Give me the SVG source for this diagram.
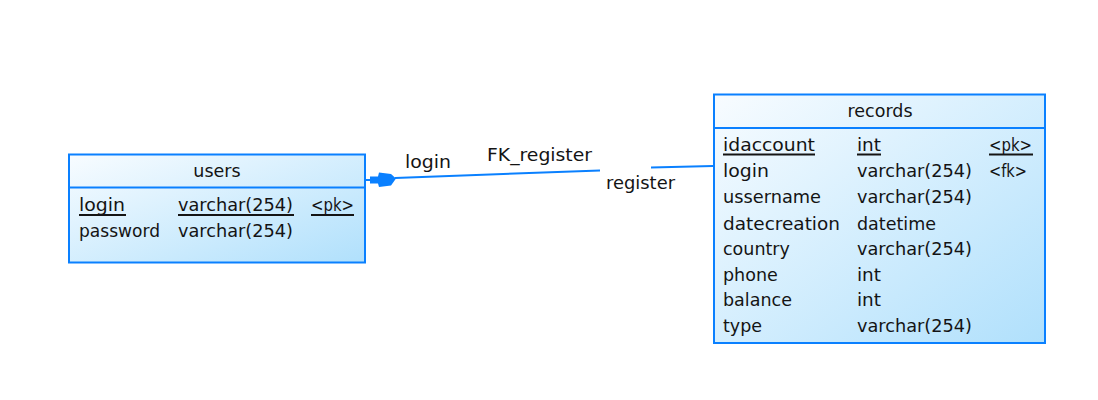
<svg xmlns="http://www.w3.org/2000/svg" width="1098" height="400" viewBox="0 0 1098 400">
<defs>
<linearGradient id="g" x1="0" y1="0" x2="1" y2="1">
<stop offset="0" stop-color="#F8FCFF"/>
<stop offset="1" stop-color="#B0E0FC"/>
</linearGradient>
<style>
.box{fill:url(#g);stroke:#0A80FF;stroke-width:2}
.sep{stroke:#0A80FF;stroke-width:2}
.t{font-family:"DejaVu Sans",Verdana,sans-serif;font-size:17.5px;fill:#141414}
.c{text-anchor:middle}
.u{stroke:#141414;stroke-width:2}
.conn{stroke:#0A80FF;stroke-width:2;fill:none}
.lbl{font-family:"DejaVu Sans",Verdana,sans-serif;font-size:17.5px;fill:#141414}
</style>
</defs>
<rect width="1098" height="400" fill="#ffffff"/>
<g id="connectors">
<line class="conn" x1="365" y1="180" x2="372" y2="180"/>
<path d="M370,176.5 L378,176.5 L379,172.5 L391,174 L396,178.5 L391,185.5 L379,187 L378,183.5 L370,183.5 Z" fill="#0A80FF"/>
<line class="conn" x1="395" y1="178" x2="600" y2="170.5"/>
<line class="conn" x1="651" y1="167.5" x2="713" y2="166"/>
<text class="lbl" x="405" y="168" textLength="46" lengthAdjust="spacingAndGlyphs">login</text>
<text class="lbl" x="487" y="161" textLength="105" lengthAdjust="spacingAndGlyphs">FK_register</text>
<text class="lbl" x="606" y="189" textLength="69" lengthAdjust="spacingAndGlyphs">register</text>
</g>
<g id="users">
<rect class="box" x="69" y="154.5" width="296" height="108"/>
<line class="sep" x1="69" y1="187.5" x2="365" y2="187.5"/>
<text class="t c" x="217" y="177">users</text>
<text class="t" x="79" y="211" textLength="46" lengthAdjust="spacingAndGlyphs">login</text>
<text class="t" x="178" y="211" textLength="115" lengthAdjust="spacingAndGlyphs">varchar(254)</text>
<text class="t" x="311" y="211" textLength="43" lengthAdjust="spacingAndGlyphs">&lt;pk&gt;</text>
<line class="u" x1="79" y1="215" x2="126" y2="215"/>
<line class="u" x1="178" y1="215" x2="294" y2="215"/>
<line class="u" x1="311" y1="215" x2="354" y2="215"/>
<text class="t" x="79" y="237" textLength="81" lengthAdjust="spacingAndGlyphs">password</text>
<text class="t" x="178" y="237" textLength="115" lengthAdjust="spacingAndGlyphs">varchar(254)</text>
</g>
<g id="records">
<rect class="box" x="714" y="94.5" width="331" height="248.5"/>
<line class="sep" x1="714" y1="128" x2="1045" y2="128"/>
<text class="t c" x="880" y="117">records</text>
<text class="t" x="723" y="151" textLength="92" lengthAdjust="spacingAndGlyphs">idaccount</text>
<text class="t" x="857" y="151" textLength="24" lengthAdjust="spacingAndGlyphs">int</text>
<text class="t" x="989" y="151" textLength="43" lengthAdjust="spacingAndGlyphs">&lt;pk&gt;</text>
<line class="u" x1="723" y1="154.5" x2="815" y2="154.5"/>
<line class="u" x1="857" y1="154.5" x2="881" y2="154.5"/>
<line class="u" x1="989" y1="154.5" x2="1033" y2="154.5"/>
<text class="t" x="723" y="177" textLength="46" lengthAdjust="spacingAndGlyphs">login</text>
<text class="t" x="857" y="177" textLength="115" lengthAdjust="spacingAndGlyphs">varchar(254)</text>
<text class="t" x="989" y="177" textLength="38" lengthAdjust="spacingAndGlyphs">&lt;fk&gt;</text>
<text class="t" x="723" y="203" textLength="98" lengthAdjust="spacingAndGlyphs">ussername</text>
<text class="t" x="857" y="203" textLength="115" lengthAdjust="spacingAndGlyphs">varchar(254)</text>
<text class="t" x="723" y="229.5" textLength="117" lengthAdjust="spacingAndGlyphs">datecreation</text>
<text class="t" x="857" y="229.5">datetime</text>
<text class="t" x="723" y="255">country</text>
<text class="t" x="857" y="255" textLength="115" lengthAdjust="spacingAndGlyphs">varchar(254)</text>
<text class="t" x="723" y="281">phone</text>
<text class="t" x="857" y="281" textLength="24" lengthAdjust="spacingAndGlyphs">int</text>
<text class="t" x="723" y="306">balance</text>
<text class="t" x="857" y="306" textLength="24" lengthAdjust="spacingAndGlyphs">int</text>
<text class="t" x="723" y="331.5">type</text>
<text class="t" x="857" y="331.5" textLength="115" lengthAdjust="spacingAndGlyphs">varchar(254)</text>
</g>
</svg>
